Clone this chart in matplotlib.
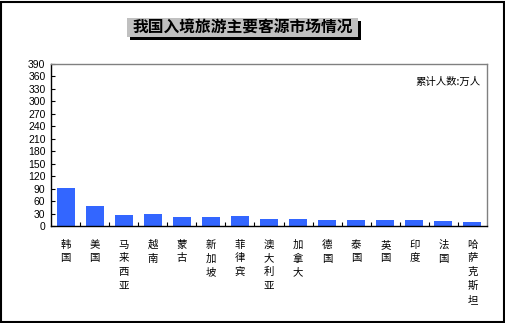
import matplotlib
matplotlib.use("Agg")
import matplotlib.pyplot as plt
from matplotlib.patches import Rectangle

plt.rcParams['font.family'] = ['Noto Sans CJK SC', 'DejaVu Sans']

countries = ['韩国', '美国', '马来西亚', '越南', '蒙古', '新加坡', '菲律宾', '澳大利亚',
             '加拿大', '德国', '泰国', '英国', '印度', '法国', '哈萨克斯坦']
visitors = [92, 48, 26, 29, 22, 22, 24, 17, 17, 14.5, 14.5, 14.5, 14.5, 12, 10]
y_ticks = list(range(0, 391, 30))
title = '我国入境旅游主要客源市场情况'
unit_note = '累计人数:万人'

W, H = 506, 323
fig = plt.figure(figsize=(W / 100, H / 100), dpi=100)
ax = fig.add_axes([51 / W, (H - 226) / H, (487 - 51) / W, (226 - 64) / H])

x = list(range(len(countries)))
ax.bar(x, visitors, width=0.62, color='#3366ff', zorder=2)
ax.set_xlim(-0.5, len(countries) - 0.5)
ax.set_ylim(0, 390)
ax.set_yticks(y_ticks)
ax.set_yticklabels([str(v) for v in y_ticks], fontsize=7.5, family='Liberation Sans')

# ticks between categories, labels stacked vertically
ax.set_xticks([i + 0.5 for i in x[:-1]])
ax.set_xticklabels([])
ax.tick_params(axis='x', direction='in', length=3, width=0.8)
ax.tick_params(axis='y', direction='in', length=3, width=0.8, pad=4)
for i, name in enumerate(countries):
    ax.text(i, -0.085, '\n'.join(name), transform=ax.get_xaxis_transform(),
            ha='center', va='top', fontsize=7.5, linespacing=1.45)

for side in ['left', 'bottom']:
    ax.spines[side].set_color('black')
    ax.spines[side].set_linewidth(1.0)
for side in ['top', 'right']:
    ax.spines[side].set_color('#808080')
    ax.spines[side].set_linewidth(1.0)

ax.text(0.985, 0.92, unit_note, transform=ax.transAxes, ha='right', va='top', fontsize=7.5)

# title box with shadow
fig.patches.append(Rectangle((130 / W, 1 - 40 / H), 231 / W, 19 / H, transform=fig.transFigure,
                             facecolor='black', edgecolor='none'))
fig.patches.append(Rectangle((127 / W, 1 - 37 / H), 231 / W, 19 / H, transform=fig.transFigure,
                             facecolor='#c0c0c0', edgecolor='none'))
fig.text(243 / W, 1 - 27.5 / H, title, ha='center', va='center', fontsize=11.3,
         fontweight='bold')

# outer frame
fig.patches.append(Rectangle((1 / W, 1 / H), (W - 3) / W, (H - 3) / H, transform=fig.transFigure,
                             facecolor='none', edgecolor='black', linewidth=1.5))

fig.savefig('out.png', dpi=100)
